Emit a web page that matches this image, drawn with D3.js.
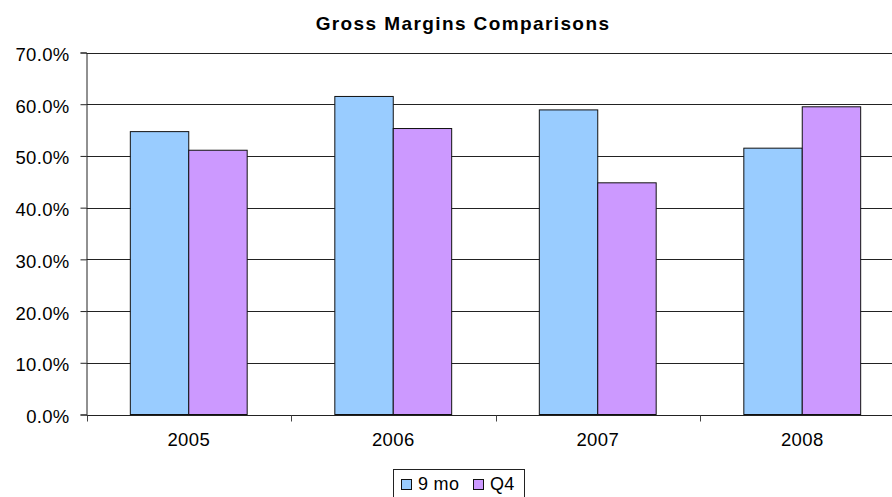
<!DOCTYPE html>
<html>
<head>
<meta charset="utf-8">
<script src="https://cdn.jsdelivr.net/npm/d3@7/dist/d3.min.js"></script>
<style>
  html, body { margin: 0; padding: 0; background: #fff; }
  svg { display: block; font-family: "Liberation Sans", Arial, sans-serif; }
</style>
</head>
<body>
<svg id="chart" width="892" height="497"></svg>
<script>
// Gross margin by year: first nine months vs. fourth quarter
const years = ["2005", "2006", "2007", "2008"];
const seriesNames = ["9 mo", "Q4"];
const nineMonths = [0.547, 0.615, 0.589, 0.515];
const fourthQuarter = [0.511, 0.553, 0.448, 0.595];
const yTicks = [0, 0.1, 0.2, 0.3, 0.4, 0.5, 0.6, 0.7];
const colors = ["#99CCFF", "#CC99FF"];

const svg = d3.select("#chart");
const plotLeft = 86.5, plotRight = 904.5, plotTop = 52.5, plotBottom = 414.5;

const x = d3.scaleBand().domain(years).range([plotLeft, plotRight])
  .paddingInner(1.5 / 3.5).paddingOuter(0.75 / 3.5);
const xs = d3.scaleBand().domain(seriesNames).range([0, x.bandwidth()]);
const y = d3.scaleLinear().domain([0, 0.7]).range([plotBottom, plotTop]);

// Title
svg.append("text")
  .attr("x", 463).attr("y", 30)
  .attr("text-anchor", "middle")
  .style("font-size", "19px").style("font-weight", "bold")
  .style("letter-spacing", "1.4px")
  .text("Gross Margins Comparisons");

// Horizontal gridlines
svg.append("g").selectAll("line").data(yTicks.filter(d => d > 0)).join("line")
  .attr("x1", plotLeft).attr("x2", plotRight)
  .attr("y1", d => Math.round(y(d)) + 0.5).attr("y2", d => Math.round(y(d)) + 0.5)
  .attr("stroke", "#222").attr("stroke-width", 1);

// Bars
const rows = years.map((yr, i) => ({ year: yr, values: [nineMonths[i], fourthQuarter[i]] }));
const groups = svg.append("g").selectAll("g").data(rows).join("g")
  .attr("transform", d => `translate(${x(d.year)},0)`);
groups.selectAll("rect").data(d => d.values.map((v, j) => ({ name: seriesNames[j], v, j })))
  .join("rect")
  .attr("x", d => xs(d.name))
  .attr("width", xs.bandwidth())
  .attr("y", d => y(d.v))
  .attr("height", d => y(0) - y(d.v))
  .attr("fill", d => colors[d.j])
  .attr("stroke", "#111").attr("stroke-width", 1);

// Y axis
const yAxis = d3.axisLeft(y).tickValues(yTicks).tickFormat(d3.format(".1%")).tickSize(6).tickPadding(11);
const gy = svg.append("g").attr("transform", `translate(${plotLeft},0)`).call(yAxis);
gy.select(".domain").attr("stroke", "#222");
gy.selectAll(".tick line").attr("stroke", "#222");
gy.selectAll(".tick text").style("font-size", "18.5px").style("letter-spacing", "0.3px")
  .attr("fill", "#000").attr("dy", "0.43em");

// X axis: labels centered on each year, ticks between categories
const xAxis = d3.axisBottom(x).tickSize(0).tickPadding(17);
const gx = svg.append("g").attr("transform", `translate(0,${Math.round(plotBottom) + 0.5})`).call(xAxis);
gx.select(".domain").attr("stroke", "#222").attr("d", `M${plotLeft},0H${plotRight}`);
gx.selectAll(".tick text").style("font-size", "18.5px").style("letter-spacing", "0.4px").attr("fill", "#000");
const boundaries = d3.range(years.length + 1).map(i => plotLeft + i * x.step());
gx.selectAll(".bound").data(boundaries).join("line").attr("class", "bound")
  .attr("x1", d => Math.round(d) + 0.5).attr("x2", d => Math.round(d) + 0.5)
  .attr("y1", 0).attr("y2", 6).attr("stroke", "#444");

// Legend
const lg = svg.append("g");
lg.append("rect").attr("x", 393.5).attr("y", 469.5).attr("width", 131).attr("height", 40)
  .attr("fill", "#fff").attr("stroke", "#222");
const items = [{ name: "9 mo", sx: 401, tx: 418 }, { name: "Q4", sx: 473, tx: 490 }];
items.forEach((it, i) => {
  lg.append("rect").attr("x", it.sx + 0.5).attr("y", 479.5).attr("width", 10).attr("height", 10)
    .attr("fill", colors[i]).attr("stroke", "#111");
  lg.append("text").attr("x", it.tx).attr("y", 490).style("font-size", "18px")
    .style("letter-spacing", "0.3px").text(it.name);
});
</script>
</body>
</html>
